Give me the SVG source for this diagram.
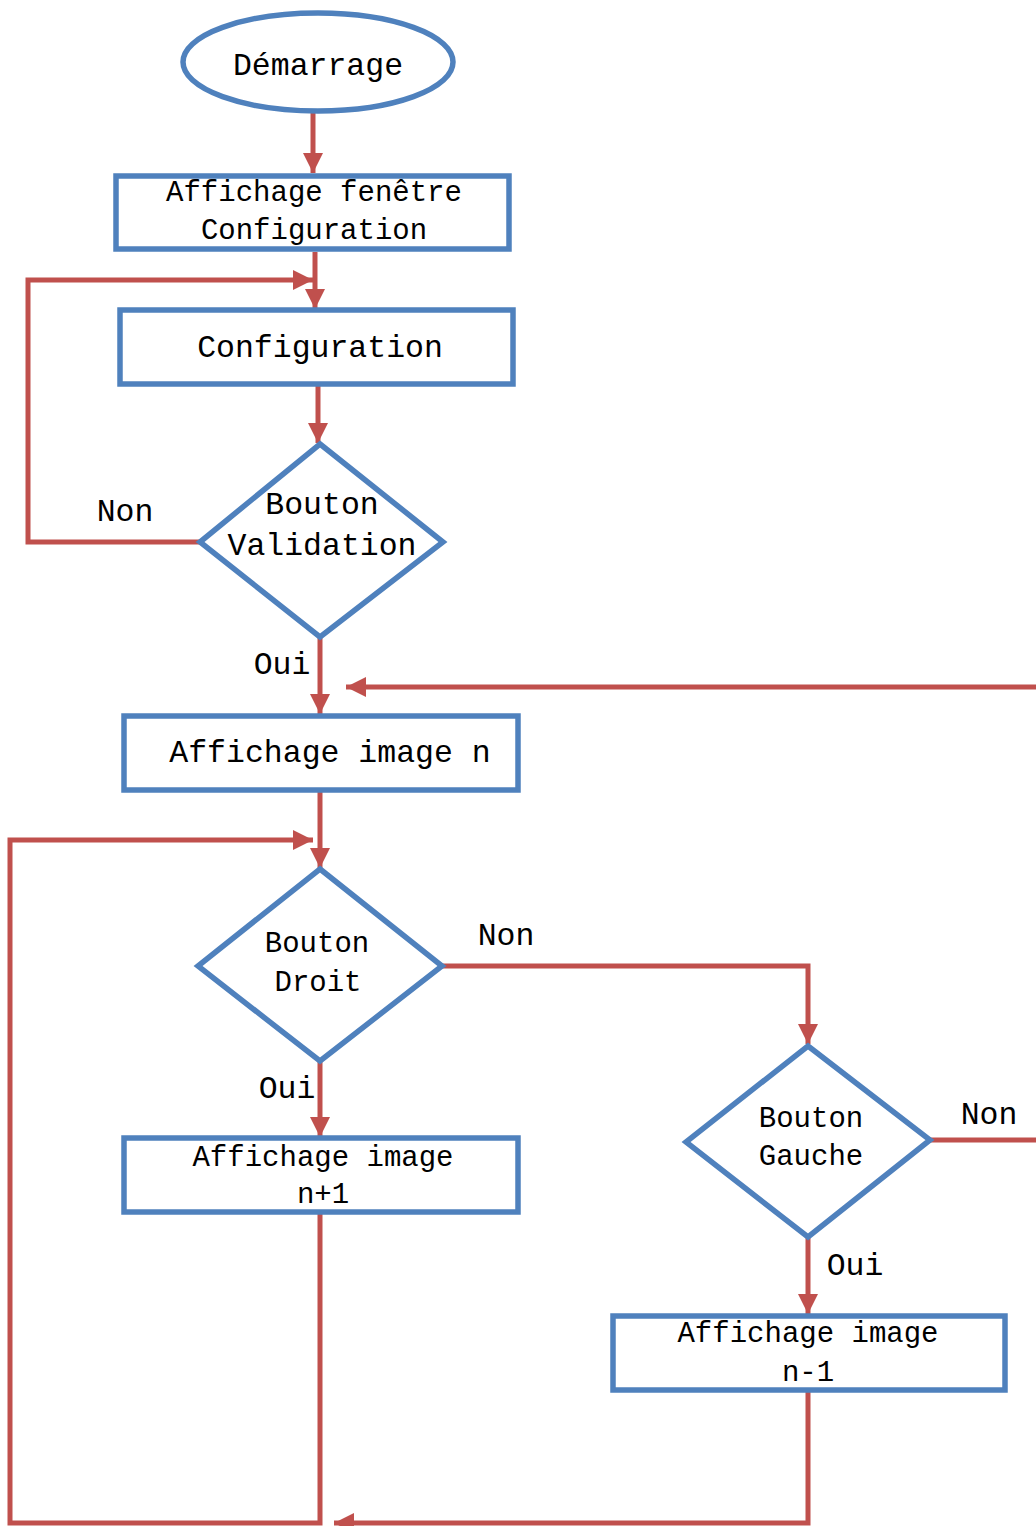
<svg xmlns="http://www.w3.org/2000/svg" width="1036" height="1526" viewBox="0 0 1036 1526">
<style>
.shape{fill:#fff;stroke:#4F81BD;stroke-width:5.5}
.conn{fill:none;stroke:#C0504D;stroke-width:5}
.t{font-family:"Liberation Mono","Courier New",monospace;fill:#000;text-anchor:middle}
.b{font-size:31.5px}
.s{font-size:29px}
</style>
<defs>
<marker id="ah" markerUnits="userSpaceOnUse" markerWidth="20" markerHeight="20" refX="20" refY="10" orient="auto" viewBox="0 0 20 20">
<path d="M0,0 L20,10 L0,20 z" fill="#C0504D"/>
</marker>
</defs>
<rect width="1036" height="1526" fill="#fff"/>
<g id="connectors">
<line class="conn" x1="313" y1="113" x2="313" y2="173" marker-end="url(#ah)"/>
<line class="conn" x1="315" y1="252" x2="315" y2="309" marker-end="url(#ah)"/>
<polyline class="conn" points="200,542 28,542 28,280 313,280" marker-end="url(#ah)"/>
<line class="conn" x1="318" y1="386" x2="318" y2="443" marker-end="url(#ah)"/>
<line class="conn" x1="320" y1="638" x2="320" y2="714" marker-end="url(#ah)"/>
<line class="conn" x1="1036" y1="687" x2="346" y2="687" marker-end="url(#ah)"/>
<line class="conn" x1="320" y1="792" x2="320" y2="868" marker-end="url(#ah)"/>
<polyline class="conn" points="320,1213 320,1523 10,1523 10,840 313,840" marker-end="url(#ah)"/>
<polyline class="conn" points="442,966 808,966 808,1044" marker-end="url(#ah)"/>
<line class="conn" x1="320" y1="1061" x2="320" y2="1137" marker-end="url(#ah)"/>
<line class="conn" x1="930" y1="1140" x2="1036" y2="1140"/>
<line class="conn" x1="808" y1="1237" x2="808" y2="1314" marker-end="url(#ah)"/>
<polyline class="conn" points="808,1390 808,1523 334,1523" marker-end="url(#ah)"/>
</g>
<g id="demarrage">
<ellipse class="shape" cx="318" cy="62" rx="135" ry="49"/>
<text class="t b" x="318" y="75">Démarrage</text>
</g>
<g id="affichage-fenetre">
<rect class="shape" x="116" y="176" width="393" height="73"/>
<text class="t s" x="314" y="201">Affichage fenêtre</text>
<text class="t s" x="314" y="239">Configuration</text>
</g>
<g id="configuration">
<rect class="shape" x="120" y="310" width="393" height="74"/>
<text class="t b" x="320" y="357">Configuration</text>
</g>
<g id="bouton-validation">
<polygon class="shape" points="320,444 443,542 320,637 200,542"/>
<text class="t b" x="322" y="514">Bouton</text>
<text class="t b" x="322" y="555">Validation</text>
</g>
<g id="affichage-image-n">
<rect class="shape" x="124" y="716" width="394" height="74"/>
<text class="t b" x="330" y="762">Affichage image n</text>
</g>
<g id="bouton-droit">
<polygon class="shape" points="320,869 442,966 320,1061 198,966"/>
<text class="t s" x="317" y="952">Bouton</text>
<text class="t s" x="318" y="991">Droit</text>
</g>
<g id="affichage-image-n-plus-1">
<rect class="shape" x="124" y="1138" width="394" height="74"/>
<text class="t s" x="323" y="1166">Affichage image</text>
<text class="t s" x="323" y="1203">n+1</text>
</g>
<g id="bouton-gauche">
<polygon class="shape" points="808,1046 930,1140 808,1237 686,1142"/>
<text class="t s" x="811" y="1127">Bouton</text>
<text class="t s" x="811" y="1165">Gauche</text>
</g>
<g id="affichage-image-n-minus-1">
<rect class="shape" x="613" y="1316" width="392" height="74"/>
<text class="t s" x="808" y="1342">Affichage image</text>
<text class="t s" x="808" y="1381">n-1</text>
</g>
<g id="labels">
<text class="t b" x="125" y="521">Non</text>
<text class="t b" x="282" y="674">Oui</text>
<text class="t b" x="506" y="945">Non</text>
<text class="t b" x="287" y="1098">Oui</text>
<text class="t b" x="989" y="1124">Non</text>
<text class="t b" x="855" y="1275">Oui</text>
</g>
</svg>
